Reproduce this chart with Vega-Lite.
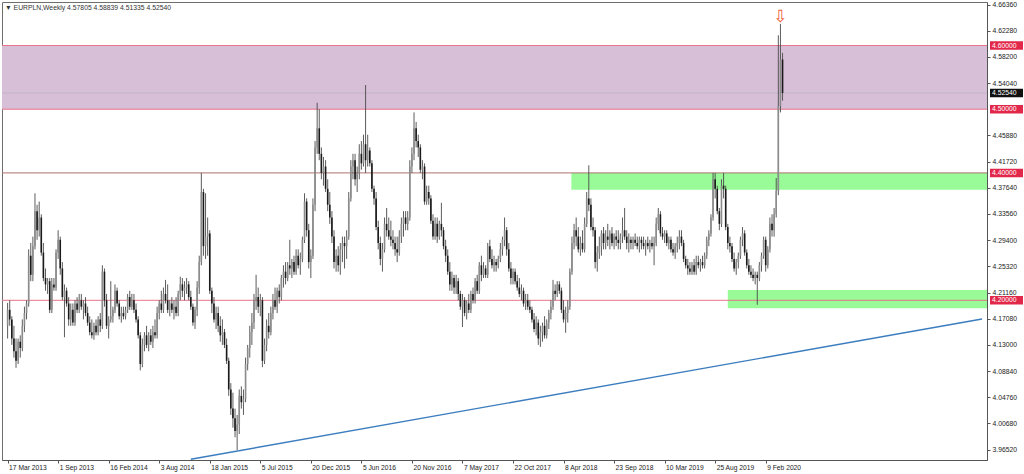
{
"$schema": "https://vega.github.io/schema/vega-lite/v6.json",
"width": 985, "height": 458,
"autosize": {"type": "none"},
"padding": {"left": 2, "top": 2, "right": 37, "bottom": 14},
"background": "white",
"config": {"view": {"stroke": "#6e6e6e", "strokeWidth": 1}, "font": "Liberation Sans", "axis": {"labelOverlap": false, "labelFlush": false, "labelBound": false}},
"title": {"text": "▼ EURPLN,Weekly  4.57805 4.58839 4.51335 4.52540", "anchor": "start", "frame": "group", "offset": -13, "baseline": "middle", "fontSize": 6.8, "fontWeight": "normal", "color": "#333333", "font": "Liberation Sans", "dx": 3},
"datasets": {
"candles": [
{"d":"2013-03-17","o":4.16,"h":4.196,"l":4.14,"c":4.185},
{"d":"2013-03-24","o":4.185,"h":4.2,"l":4.16,"c":4.17},
{"d":"2013-03-31","o":4.17,"h":4.175,"l":4.13,"c":4.14},
{"d":"2013-04-07","o":4.14,"h":4.16,"l":4.11,"c":4.12},
{"d":"2013-04-14","o":4.12,"h":4.14,"l":4.094,"c":4.105},
{"d":"2013-04-21","o":4.105,"h":4.14,"l":4.1,"c":4.135},
{"d":"2013-04-28","o":4.135,"h":4.145,"l":4.11,"c":4.125},
{"d":"2013-05-05","o":4.125,"h":4.17,"l":4.12,"c":4.16},
{"d":"2013-05-12","o":4.16,"h":4.19,"l":4.15,"c":4.18},
{"d":"2013-05-19","o":4.18,"h":4.2,"l":4.17,"c":4.195},
{"d":"2013-05-26","o":4.195,"h":4.28,"l":4.19,"c":4.27},
{"d":"2013-06-02","o":4.27,"h":4.29,"l":4.23,"c":4.24},
{"d":"2013-06-09","o":4.24,"h":4.3,"l":4.23,"c":4.285},
{"d":"2013-06-16","o":4.285,"h":4.368,"l":4.28,"c":4.34},
{"d":"2013-06-23","o":4.34,"h":4.35,"l":4.295,"c":4.31},
{"d":"2013-06-30","o":4.31,"h":4.355,"l":4.3,"c":4.33},
{"d":"2013-07-07","o":4.33,"h":4.335,"l":4.27,"c":4.275},
{"d":"2013-07-14","o":4.275,"h":4.29,"l":4.23,"c":4.235},
{"d":"2013-07-21","o":4.235,"h":4.25,"l":4.215,"c":4.225},
{"d":"2013-07-28","o":4.225,"h":4.235,"l":4.21,"c":4.23},
{"d":"2013-08-04","o":4.23,"h":4.235,"l":4.18,"c":4.185},
{"d":"2013-08-11","o":4.185,"h":4.235,"l":4.18,"c":4.225},
{"d":"2013-08-18","o":4.225,"h":4.235,"l":4.215,"c":4.22},
{"d":"2013-08-25","o":4.22,"h":4.28,"l":4.215,"c":4.275},
{"d":"2013-09-01","o":4.275,"h":4.31,"l":4.265,"c":4.295},
{"d":"2013-09-08","o":4.295,"h":4.3,"l":4.24,"c":4.25},
{"d":"2013-09-15","o":4.25,"h":4.26,"l":4.2,"c":4.205},
{"d":"2013-09-22","o":4.205,"h":4.225,"l":4.142,"c":4.215},
{"d":"2013-09-29","o":4.215,"h":4.22,"l":4.19,"c":4.195},
{"d":"2013-10-06","o":4.195,"h":4.205,"l":4.16,"c":4.17},
{"d":"2013-10-13","o":4.17,"h":4.195,"l":4.16,"c":4.185},
{"d":"2013-10-20","o":4.185,"h":4.195,"l":4.16,"c":4.165},
{"d":"2013-10-27","o":4.165,"h":4.2,"l":4.16,"c":4.195},
{"d":"2013-11-03","o":4.195,"h":4.205,"l":4.18,"c":4.185},
{"d":"2013-11-10","o":4.185,"h":4.21,"l":4.18,"c":4.2},
{"d":"2013-11-17","o":4.2,"h":4.21,"l":4.185,"c":4.19},
{"d":"2013-11-24","o":4.19,"h":4.2,"l":4.17,"c":4.195},
{"d":"2013-12-01","o":4.195,"h":4.205,"l":4.175,"c":4.18},
{"d":"2013-12-08","o":4.18,"h":4.19,"l":4.16,"c":4.165},
{"d":"2013-12-15","o":4.165,"h":4.175,"l":4.145,"c":4.15},
{"d":"2013-12-22","o":4.15,"h":4.17,"l":4.14,"c":4.145},
{"d":"2013-12-29","o":4.145,"h":4.165,"l":4.138,"c":4.16},
{"d":"2014-01-05","o":4.16,"h":4.17,"l":4.145,"c":4.15},
{"d":"2014-01-12","o":4.15,"h":4.175,"l":4.145,"c":4.17},
{"d":"2014-01-19","o":4.17,"h":4.18,"l":4.15,"c":4.16},
{"d":"2014-01-26","o":4.16,"h":4.255,"l":4.155,"c":4.245},
{"d":"2014-02-02","o":4.245,"h":4.25,"l":4.19,"c":4.2},
{"d":"2014-02-09","o":4.2,"h":4.21,"l":4.155,"c":4.16},
{"d":"2014-02-16","o":4.16,"h":4.175,"l":4.14,"c":4.17},
{"d":"2014-02-23","o":4.17,"h":4.23,"l":4.165,"c":4.175},
{"d":"2014-03-02","o":4.175,"h":4.19,"l":4.165,"c":4.185},
{"d":"2014-03-09","o":4.185,"h":4.225,"l":4.18,"c":4.215},
{"d":"2014-03-16","o":4.215,"h":4.22,"l":4.19,"c":4.195},
{"d":"2014-03-23","o":4.195,"h":4.2,"l":4.17,"c":4.175},
{"d":"2014-03-30","o":4.175,"h":4.19,"l":4.165,"c":4.18},
{"d":"2014-04-06","o":4.18,"h":4.19,"l":4.17,"c":4.175},
{"d":"2014-04-13","o":4.175,"h":4.19,"l":4.17,"c":4.185},
{"d":"2014-04-20","o":4.185,"h":4.21,"l":4.18,"c":4.205},
{"d":"2014-04-27","o":4.205,"h":4.215,"l":4.185,"c":4.19},
{"d":"2014-05-04","o":4.19,"h":4.21,"l":4.185,"c":4.2},
{"d":"2014-05-11","o":4.2,"h":4.21,"l":4.18,"c":4.185},
{"d":"2014-05-18","o":4.185,"h":4.195,"l":4.165,"c":4.17},
{"d":"2014-05-25","o":4.17,"h":4.175,"l":4.14,"c":4.145},
{"d":"2014-06-01","o":4.145,"h":4.15,"l":4.09,"c":4.1},
{"d":"2014-06-08","o":4.1,"h":4.14,"l":4.095,"c":4.13},
{"d":"2014-06-15","o":4.13,"h":4.15,"l":4.12,"c":4.145},
{"d":"2014-06-22","o":4.145,"h":4.16,"l":4.125,"c":4.13},
{"d":"2014-06-29","o":4.13,"h":4.15,"l":4.12,"c":4.145},
{"d":"2014-07-06","o":4.145,"h":4.155,"l":4.13,"c":4.135},
{"d":"2014-07-13","o":4.135,"h":4.16,"l":4.125,"c":4.15},
{"d":"2014-07-20","o":4.15,"h":4.17,"l":4.14,"c":4.145},
{"d":"2014-07-27","o":4.145,"h":4.19,"l":4.14,"c":4.18},
{"d":"2014-08-03","o":4.18,"h":4.2,"l":4.17,"c":4.195},
{"d":"2014-08-10","o":4.195,"h":4.215,"l":4.18,"c":4.185},
{"d":"2014-08-17","o":4.185,"h":4.22,"l":4.18,"c":4.21},
{"d":"2014-08-24","o":4.21,"h":4.232,"l":4.195,"c":4.2},
{"d":"2014-08-31","o":4.2,"h":4.225,"l":4.18,"c":4.185},
{"d":"2014-09-07","o":4.185,"h":4.2,"l":4.175,"c":4.195},
{"d":"2014-09-14","o":4.195,"h":4.205,"l":4.18,"c":4.185},
{"d":"2014-09-21","o":4.185,"h":4.2,"l":4.17,"c":4.19},
{"d":"2014-09-28","o":4.19,"h":4.205,"l":4.175,"c":4.18},
{"d":"2014-10-05","o":4.18,"h":4.215,"l":4.175,"c":4.21},
{"d":"2014-10-12","o":4.21,"h":4.237,"l":4.2,"c":4.225},
{"d":"2014-10-19","o":4.225,"h":4.235,"l":4.205,"c":4.215},
{"d":"2014-10-26","o":4.215,"h":4.23,"l":4.2,"c":4.22},
{"d":"2014-11-02","o":4.22,"h":4.235,"l":4.21,"c":4.225},
{"d":"2014-11-09","o":4.225,"h":4.23,"l":4.2,"c":4.205},
{"d":"2014-11-16","o":4.205,"h":4.215,"l":4.185,"c":4.19},
{"d":"2014-11-23","o":4.19,"h":4.195,"l":4.16,"c":4.165},
{"d":"2014-11-30","o":4.165,"h":4.19,"l":4.155,"c":4.185},
{"d":"2014-12-07","o":4.185,"h":4.23,"l":4.175,"c":4.22},
{"d":"2014-12-14","o":4.22,"h":4.27,"l":4.21,"c":4.26},
{"d":"2014-12-21","o":4.26,"h":4.4,"l":4.255,"c":4.37},
{"d":"2014-12-28","o":4.37,"h":4.375,"l":4.27,"c":4.285},
{"d":"2015-01-04","o":4.285,"h":4.368,"l":4.265,"c":4.3},
{"d":"2015-01-11","o":4.3,"h":4.33,"l":4.27,"c":4.305},
{"d":"2015-01-18","o":4.305,"h":4.31,"l":4.21,"c":4.215},
{"d":"2015-01-25","o":4.215,"h":4.22,"l":4.18,"c":4.195},
{"d":"2015-02-01","o":4.195,"h":4.205,"l":4.165,"c":4.17},
{"d":"2015-02-08","o":4.17,"h":4.19,"l":4.155,"c":4.18},
{"d":"2015-02-15","o":4.18,"h":4.19,"l":4.15,"c":4.16},
{"d":"2015-02-22","o":4.16,"h":4.175,"l":4.135,"c":4.145},
{"d":"2015-03-01","o":4.145,"h":4.17,"l":4.13,"c":4.15},
{"d":"2015-03-08","o":4.15,"h":4.155,"l":4.125,"c":4.13},
{"d":"2015-03-15","o":4.13,"h":4.14,"l":4.1,"c":4.105},
{"d":"2015-03-22","o":4.105,"h":4.11,"l":4.05,"c":4.06},
{"d":"2015-03-29","o":4.06,"h":4.07,"l":4.02,"c":4.03},
{"d":"2015-04-05","o":4.03,"h":4.055,"l":4.0,"c":4.015},
{"d":"2015-04-12","o":4.015,"h":4.03,"l":3.985,"c":3.995},
{"d":"2015-04-19","o":3.995,"h":4.02,"l":3.965,"c":4.005},
{"d":"2015-04-26","o":4.005,"h":4.06,"l":3.99,"c":4.05},
{"d":"2015-05-03","o":4.05,"h":4.065,"l":4.03,"c":4.04},
{"d":"2015-05-10","o":4.04,"h":4.06,"l":4.02,"c":4.045},
{"d":"2015-05-17","o":4.045,"h":4.11,"l":4.04,"c":4.1},
{"d":"2015-05-24","o":4.1,"h":4.13,"l":4.09,"c":4.125},
{"d":"2015-05-31","o":4.125,"h":4.16,"l":4.11,"c":4.15},
{"d":"2015-06-07","o":4.15,"h":4.18,"l":4.13,"c":4.165},
{"d":"2015-06-14","o":4.165,"h":4.21,"l":4.155,"c":4.2},
{"d":"2015-06-21","o":4.2,"h":4.24,"l":4.185,"c":4.205},
{"d":"2015-06-28","o":4.205,"h":4.22,"l":4.18,"c":4.19},
{"d":"2015-07-05","o":4.19,"h":4.21,"l":4.175,"c":4.2},
{"d":"2015-07-12","o":4.2,"h":4.205,"l":4.095,"c":4.105},
{"d":"2015-07-19","o":4.105,"h":4.14,"l":4.1,"c":4.13},
{"d":"2015-07-26","o":4.13,"h":4.17,"l":4.12,"c":4.16},
{"d":"2015-08-02","o":4.16,"h":4.18,"l":4.14,"c":4.15},
{"d":"2015-08-09","o":4.15,"h":4.19,"l":4.145,"c":4.18},
{"d":"2015-08-16","o":4.18,"h":4.21,"l":4.17,"c":4.2},
{"d":"2015-08-23","o":4.2,"h":4.22,"l":4.185,"c":4.19},
{"d":"2015-08-30","o":4.19,"h":4.22,"l":4.18,"c":4.215},
{"d":"2015-09-06","o":4.215,"h":4.225,"l":4.195,"c":4.205},
{"d":"2015-09-13","o":4.205,"h":4.24,"l":4.2,"c":4.235},
{"d":"2015-09-20","o":4.235,"h":4.255,"l":4.22,"c":4.245},
{"d":"2015-09-27","o":4.245,"h":4.26,"l":4.225,"c":4.235},
{"d":"2015-10-04","o":4.235,"h":4.26,"l":4.23,"c":4.255},
{"d":"2015-10-11","o":4.255,"h":4.295,"l":4.24,"c":4.25},
{"d":"2015-10-18","o":4.25,"h":4.265,"l":4.235,"c":4.26},
{"d":"2015-10-25","o":4.26,"h":4.27,"l":4.24,"c":4.245},
{"d":"2015-11-01","o":4.245,"h":4.28,"l":4.24,"c":4.27},
{"d":"2015-11-08","o":4.27,"h":4.28,"l":4.25,"c":4.255},
{"d":"2015-11-15","o":4.255,"h":4.275,"l":4.24,"c":4.265},
{"d":"2015-11-22","o":4.265,"h":4.3,"l":4.26,"c":4.295},
{"d":"2015-11-29","o":4.295,"h":4.368,"l":4.29,"c":4.355},
{"d":"2015-12-06","o":4.355,"h":4.36,"l":4.3,"c":4.31},
{"d":"2015-12-13","o":4.31,"h":4.32,"l":4.25,"c":4.26},
{"d":"2015-12-20","o":4.26,"h":4.28,"l":4.235,"c":4.27},
{"d":"2015-12-27","o":4.27,"h":4.36,"l":4.265,"c":4.35},
{"d":"2016-01-03","o":4.35,"h":4.45,"l":4.34,"c":4.44},
{"d":"2016-01-10","o":4.44,"h":4.51,"l":4.43,"c":4.47},
{"d":"2016-01-17","o":4.47,"h":4.5,"l":4.42,"c":4.43},
{"d":"2016-01-24","o":4.43,"h":4.44,"l":4.39,"c":4.4},
{"d":"2016-01-31","o":4.4,"h":4.425,"l":4.38,"c":4.41},
{"d":"2016-02-07","o":4.41,"h":4.42,"l":4.37,"c":4.375},
{"d":"2016-02-14","o":4.375,"h":4.39,"l":4.34,"c":4.35},
{"d":"2016-02-21","o":4.35,"h":4.37,"l":4.32,"c":4.33},
{"d":"2016-02-28","o":4.33,"h":4.34,"l":4.29,"c":4.3},
{"d":"2016-03-06","o":4.3,"h":4.31,"l":4.25,"c":4.26},
{"d":"2016-03-13","o":4.26,"h":4.28,"l":4.245,"c":4.27},
{"d":"2016-03-20","o":4.27,"h":4.285,"l":4.245,"c":4.255},
{"d":"2016-03-27","o":4.255,"h":4.29,"l":4.24,"c":4.28},
{"d":"2016-04-03","o":4.28,"h":4.3,"l":4.26,"c":4.29},
{"d":"2016-04-10","o":4.29,"h":4.3,"l":4.25,"c":4.285},
{"d":"2016-04-17","o":4.285,"h":4.31,"l":4.265,"c":4.3},
{"d":"2016-04-24","o":4.3,"h":4.37,"l":4.295,"c":4.36},
{"d":"2016-05-01","o":4.36,"h":4.42,"l":4.355,"c":4.41},
{"d":"2016-05-08","o":4.41,"h":4.43,"l":4.39,"c":4.42},
{"d":"2016-05-15","o":4.42,"h":4.43,"l":4.38,"c":4.39},
{"d":"2016-05-22","o":4.39,"h":4.41,"l":4.37,"c":4.4},
{"d":"2016-05-29","o":4.4,"h":4.445,"l":4.39,"c":4.43},
{"d":"2016-06-05","o":4.43,"h":4.45,"l":4.405,"c":4.415},
{"d":"2016-06-12","o":4.415,"h":4.46,"l":4.41,"c":4.445},
{"d":"2016-06-19","o":4.445,"h":4.538,"l":4.4,"c":4.42},
{"d":"2016-06-26","o":4.42,"h":4.46,"l":4.41,"c":4.435},
{"d":"2016-07-03","o":4.435,"h":4.44,"l":4.41,"c":4.415},
{"d":"2016-07-10","o":4.415,"h":4.42,"l":4.37,"c":4.375},
{"d":"2016-07-17","o":4.375,"h":4.38,"l":4.35,"c":4.36},
{"d":"2016-07-24","o":4.36,"h":4.37,"l":4.31,"c":4.315},
{"d":"2016-07-31","o":4.315,"h":4.325,"l":4.28,"c":4.29},
{"d":"2016-08-07","o":4.29,"h":4.3,"l":4.255,"c":4.265},
{"d":"2016-08-14","o":4.265,"h":4.29,"l":4.245,"c":4.28},
{"d":"2016-08-21","o":4.28,"h":4.33,"l":4.275,"c":4.32},
{"d":"2016-08-28","o":4.32,"h":4.345,"l":4.3,"c":4.31},
{"d":"2016-09-04","o":4.31,"h":4.33,"l":4.295,"c":4.3},
{"d":"2016-09-11","o":4.3,"h":4.325,"l":4.285,"c":4.295},
{"d":"2016-09-18","o":4.295,"h":4.31,"l":4.28,"c":4.29},
{"d":"2016-09-25","o":4.29,"h":4.3,"l":4.27,"c":4.28},
{"d":"2016-10-02","o":4.28,"h":4.3,"l":4.26,"c":4.275},
{"d":"2016-10-09","o":4.275,"h":4.31,"l":4.27,"c":4.3},
{"d":"2016-10-16","o":4.3,"h":4.33,"l":4.29,"c":4.32},
{"d":"2016-10-23","o":4.32,"h":4.34,"l":4.3,"c":4.33},
{"d":"2016-10-30","o":4.33,"h":4.34,"l":4.31,"c":4.32},
{"d":"2016-11-06","o":4.32,"h":4.34,"l":4.31,"c":4.33},
{"d":"2016-11-13","o":4.33,"h":4.42,"l":4.325,"c":4.41},
{"d":"2016-11-20","o":4.41,"h":4.44,"l":4.4,"c":4.43},
{"d":"2016-11-27","o":4.43,"h":4.495,"l":4.42,"c":4.47},
{"d":"2016-12-04","o":4.47,"h":4.48,"l":4.44,"c":4.45},
{"d":"2016-12-11","o":4.45,"h":4.46,"l":4.425,"c":4.44},
{"d":"2016-12-18","o":4.44,"h":4.445,"l":4.4,"c":4.405},
{"d":"2016-12-25","o":4.405,"h":4.42,"l":4.39,"c":4.41},
{"d":"2017-01-01","o":4.41,"h":4.415,"l":4.35,"c":4.355},
{"d":"2017-01-08","o":4.355,"h":4.38,"l":4.35,"c":4.37},
{"d":"2017-01-15","o":4.37,"h":4.38,"l":4.35,"c":4.36},
{"d":"2017-01-22","o":4.36,"h":4.365,"l":4.32,"c":4.325},
{"d":"2017-01-29","o":4.325,"h":4.335,"l":4.295,"c":4.3},
{"d":"2017-02-05","o":4.3,"h":4.33,"l":4.295,"c":4.32},
{"d":"2017-02-12","o":4.32,"h":4.33,"l":4.29,"c":4.3},
{"d":"2017-02-19","o":4.3,"h":4.325,"l":4.295,"c":4.32},
{"d":"2017-02-26","o":4.32,"h":4.353,"l":4.3,"c":4.31},
{"d":"2017-03-05","o":4.31,"h":4.315,"l":4.28,"c":4.285},
{"d":"2017-03-12","o":4.285,"h":4.295,"l":4.26,"c":4.27},
{"d":"2017-03-19","o":4.27,"h":4.28,"l":4.24,"c":4.245},
{"d":"2017-03-26","o":4.245,"h":4.26,"l":4.215,"c":4.225},
{"d":"2017-04-02","o":4.225,"h":4.245,"l":4.215,"c":4.235},
{"d":"2017-04-09","o":4.235,"h":4.24,"l":4.21,"c":4.22},
{"d":"2017-04-16","o":4.22,"h":4.24,"l":4.21,"c":4.23},
{"d":"2017-04-23","o":4.23,"h":4.235,"l":4.2,"c":4.21},
{"d":"2017-04-30","o":4.21,"h":4.215,"l":4.185,"c":4.19},
{"d":"2017-05-07","o":4.19,"h":4.21,"l":4.158,"c":4.2},
{"d":"2017-05-14","o":4.2,"h":4.205,"l":4.175,"c":4.18},
{"d":"2017-05-21","o":4.18,"h":4.2,"l":4.17,"c":4.195},
{"d":"2017-05-28","o":4.195,"h":4.21,"l":4.18,"c":4.185},
{"d":"2017-06-04","o":4.185,"h":4.215,"l":4.18,"c":4.21},
{"d":"2017-06-11","o":4.21,"h":4.22,"l":4.195,"c":4.2},
{"d":"2017-06-18","o":4.2,"h":4.235,"l":4.195,"c":4.23},
{"d":"2017-06-25","o":4.23,"h":4.24,"l":4.21,"c":4.215},
{"d":"2017-07-02","o":4.215,"h":4.26,"l":4.21,"c":4.255},
{"d":"2017-07-09","o":4.255,"h":4.27,"l":4.23,"c":4.24},
{"d":"2017-07-16","o":4.24,"h":4.26,"l":4.235,"c":4.25},
{"d":"2017-07-23","o":4.25,"h":4.255,"l":4.235,"c":4.24},
{"d":"2017-07-30","o":4.24,"h":4.29,"l":4.235,"c":4.285},
{"d":"2017-08-06","o":4.285,"h":4.295,"l":4.26,"c":4.265},
{"d":"2017-08-13","o":4.265,"h":4.28,"l":4.25,"c":4.255},
{"d":"2017-08-20","o":4.255,"h":4.27,"l":4.245,"c":4.26},
{"d":"2017-08-27","o":4.26,"h":4.265,"l":4.245,"c":4.255},
{"d":"2017-09-03","o":4.255,"h":4.27,"l":4.25,"c":4.265},
{"d":"2017-09-10","o":4.265,"h":4.29,"l":4.26,"c":4.28},
{"d":"2017-09-17","o":4.28,"h":4.3,"l":4.27,"c":4.295},
{"d":"2017-09-24","o":4.295,"h":4.33,"l":4.285,"c":4.31},
{"d":"2017-10-01","o":4.31,"h":4.315,"l":4.27,"c":4.28},
{"d":"2017-10-08","o":4.28,"h":4.29,"l":4.245,"c":4.25},
{"d":"2017-10-15","o":4.25,"h":4.26,"l":4.225,"c":4.235},
{"d":"2017-10-22","o":4.235,"h":4.25,"l":4.225,"c":4.245},
{"d":"2017-10-29","o":4.245,"h":4.25,"l":4.225,"c":4.23},
{"d":"2017-11-05","o":4.23,"h":4.24,"l":4.215,"c":4.22},
{"d":"2017-11-12","o":4.22,"h":4.235,"l":4.205,"c":4.21},
{"d":"2017-11-19","o":4.21,"h":4.225,"l":4.2,"c":4.215},
{"d":"2017-11-26","o":4.215,"h":4.22,"l":4.19,"c":4.195},
{"d":"2017-12-03","o":4.195,"h":4.21,"l":4.185,"c":4.2},
{"d":"2017-12-10","o":4.2,"h":4.21,"l":4.185,"c":4.19},
{"d":"2017-12-17","o":4.19,"h":4.2,"l":4.18,"c":4.185},
{"d":"2017-12-24","o":4.185,"h":4.19,"l":4.165,"c":4.17},
{"d":"2017-12-31","o":4.17,"h":4.18,"l":4.15,"c":4.155},
{"d":"2018-01-07","o":4.155,"h":4.175,"l":4.145,"c":4.165},
{"d":"2018-01-14","o":4.165,"h":4.17,"l":4.13,"c":4.14},
{"d":"2018-01-21","o":4.14,"h":4.16,"l":4.127,"c":4.15},
{"d":"2018-01-28","o":4.15,"h":4.165,"l":4.135,"c":4.16},
{"d":"2018-02-04","o":4.16,"h":4.175,"l":4.14,"c":4.145},
{"d":"2018-02-11","o":4.145,"h":4.17,"l":4.14,"c":4.165},
{"d":"2018-02-18","o":4.165,"h":4.185,"l":4.155,"c":4.18},
{"d":"2018-02-25","o":4.18,"h":4.2,"l":4.17,"c":4.19},
{"d":"2018-03-04","o":4.19,"h":4.232,"l":4.185,"c":4.215},
{"d":"2018-03-11","o":4.215,"h":4.225,"l":4.2,"c":4.21},
{"d":"2018-03-18","o":4.21,"h":4.23,"l":4.205,"c":4.225},
{"d":"2018-03-25","o":4.225,"h":4.23,"l":4.21,"c":4.215},
{"d":"2018-04-01","o":4.215,"h":4.22,"l":4.18,"c":4.185},
{"d":"2018-04-08","o":4.185,"h":4.2,"l":4.165,"c":4.17},
{"d":"2018-04-15","o":4.17,"h":4.19,"l":4.149,"c":4.18},
{"d":"2018-04-22","o":4.18,"h":4.2,"l":4.165,"c":4.19},
{"d":"2018-04-29","o":4.19,"h":4.25,"l":4.185,"c":4.245},
{"d":"2018-05-06","o":4.245,"h":4.3,"l":4.24,"c":4.29},
{"d":"2018-05-13","o":4.29,"h":4.32,"l":4.28,"c":4.31},
{"d":"2018-05-20","o":4.31,"h":4.33,"l":4.285,"c":4.3},
{"d":"2018-05-27","o":4.3,"h":4.315,"l":4.275,"c":4.28},
{"d":"2018-06-03","o":4.28,"h":4.3,"l":4.27,"c":4.29},
{"d":"2018-06-10","o":4.29,"h":4.31,"l":4.275,"c":4.28},
{"d":"2018-06-17","o":4.28,"h":4.33,"l":4.275,"c":4.32},
{"d":"2018-06-24","o":4.32,"h":4.37,"l":4.315,"c":4.36},
{"d":"2018-07-01","o":4.36,"h":4.412,"l":4.34,"c":4.35},
{"d":"2018-07-08","o":4.35,"h":4.36,"l":4.31,"c":4.315},
{"d":"2018-07-15","o":4.315,"h":4.33,"l":4.3,"c":4.31},
{"d":"2018-07-22","o":4.31,"h":4.315,"l":4.25,"c":4.26},
{"d":"2018-07-29","o":4.26,"h":4.285,"l":4.245,"c":4.275},
{"d":"2018-08-05","o":4.275,"h":4.3,"l":4.265,"c":4.285},
{"d":"2018-08-12","o":4.285,"h":4.31,"l":4.27,"c":4.305},
{"d":"2018-08-19","o":4.305,"h":4.315,"l":4.28,"c":4.29},
{"d":"2018-08-26","o":4.29,"h":4.31,"l":4.28,"c":4.3},
{"d":"2018-09-02","o":4.3,"h":4.32,"l":4.285,"c":4.295},
{"d":"2018-09-09","o":4.295,"h":4.31,"l":4.28,"c":4.305},
{"d":"2018-09-16","o":4.305,"h":4.315,"l":4.285,"c":4.29},
{"d":"2018-09-23","o":4.29,"h":4.305,"l":4.28,"c":4.3},
{"d":"2018-09-30","o":4.3,"h":4.31,"l":4.285,"c":4.295},
{"d":"2018-10-07","o":4.295,"h":4.31,"l":4.28,"c":4.29},
{"d":"2018-10-14","o":4.29,"h":4.305,"l":4.28,"c":4.3},
{"d":"2018-10-21","o":4.3,"h":4.33,"l":4.29,"c":4.31},
{"d":"2018-10-28","o":4.31,"h":4.345,"l":4.295,"c":4.3},
{"d":"2018-11-04","o":4.3,"h":4.31,"l":4.28,"c":4.29},
{"d":"2018-11-11","o":4.29,"h":4.305,"l":4.275,"c":4.295},
{"d":"2018-11-18","o":4.295,"h":4.3,"l":4.28,"c":4.29},
{"d":"2018-11-25","o":4.29,"h":4.3,"l":4.28,"c":4.295},
{"d":"2018-12-02","o":4.295,"h":4.305,"l":4.285,"c":4.29},
{"d":"2018-12-09","o":4.29,"h":4.3,"l":4.28,"c":4.285},
{"d":"2018-12-16","o":4.285,"h":4.3,"l":4.275,"c":4.295},
{"d":"2018-12-23","o":4.295,"h":4.3,"l":4.28,"c":4.29},
{"d":"2018-12-30","o":4.29,"h":4.3,"l":4.28,"c":4.285},
{"d":"2019-01-06","o":4.285,"h":4.295,"l":4.27,"c":4.29},
{"d":"2019-01-13","o":4.29,"h":4.3,"l":4.28,"c":4.285},
{"d":"2019-01-20","o":4.285,"h":4.295,"l":4.275,"c":4.29},
{"d":"2019-01-27","o":4.29,"h":4.3,"l":4.28,"c":4.285},
{"d":"2019-02-03","o":4.285,"h":4.3,"l":4.255,"c":4.29},
{"d":"2019-02-10","o":4.29,"h":4.33,"l":4.285,"c":4.32},
{"d":"2019-02-17","o":4.32,"h":4.345,"l":4.31,"c":4.335},
{"d":"2019-02-24","o":4.335,"h":4.34,"l":4.3,"c":4.305},
{"d":"2019-03-03","o":4.305,"h":4.315,"l":4.295,"c":4.3},
{"d":"2019-03-10","o":4.3,"h":4.31,"l":4.29,"c":4.305},
{"d":"2019-03-17","o":4.305,"h":4.31,"l":4.285,"c":4.29},
{"d":"2019-03-24","o":4.29,"h":4.3,"l":4.28,"c":4.295},
{"d":"2019-03-31","o":4.295,"h":4.3,"l":4.275,"c":4.28},
{"d":"2019-04-07","o":4.28,"h":4.29,"l":4.27,"c":4.275},
{"d":"2019-04-14","o":4.275,"h":4.29,"l":4.265,"c":4.285},
{"d":"2019-04-21","o":4.285,"h":4.3,"l":4.275,"c":4.29},
{"d":"2019-04-28","o":4.29,"h":4.31,"l":4.28,"c":4.3},
{"d":"2019-05-05","o":4.3,"h":4.31,"l":4.285,"c":4.29},
{"d":"2019-05-12","o":4.29,"h":4.295,"l":4.26,"c":4.265},
{"d":"2019-05-19","o":4.265,"h":4.27,"l":4.25,"c":4.255},
{"d":"2019-05-26","o":4.255,"h":4.265,"l":4.24,"c":4.25},
{"d":"2019-06-02","o":4.25,"h":4.26,"l":4.24,"c":4.245},
{"d":"2019-06-09","o":4.245,"h":4.26,"l":4.24,"c":4.255},
{"d":"2019-06-16","o":4.255,"h":4.265,"l":4.24,"c":4.245},
{"d":"2019-06-23","o":4.245,"h":4.27,"l":4.24,"c":4.26},
{"d":"2019-06-30","o":4.26,"h":4.27,"l":4.25,"c":4.255},
{"d":"2019-07-07","o":4.255,"h":4.265,"l":4.245,"c":4.26},
{"d":"2019-07-14","o":4.26,"h":4.27,"l":4.25,"c":4.255},
{"d":"2019-07-21","o":4.255,"h":4.275,"l":4.25,"c":4.27},
{"d":"2019-07-28","o":4.27,"h":4.3,"l":4.265,"c":4.295},
{"d":"2019-08-04","o":4.295,"h":4.31,"l":4.285,"c":4.305},
{"d":"2019-08-11","o":4.305,"h":4.335,"l":4.3,"c":4.33},
{"d":"2019-08-18","o":4.33,"h":4.4,"l":4.325,"c":4.39},
{"d":"2019-08-25","o":4.39,"h":4.4,"l":4.36,"c":4.375},
{"d":"2019-09-01","o":4.375,"h":4.38,"l":4.335,"c":4.34},
{"d":"2019-09-08","o":4.34,"h":4.345,"l":4.31,"c":4.32},
{"d":"2019-09-15","o":4.32,"h":4.39,"l":4.315,"c":4.38},
{"d":"2019-09-22","o":4.38,"h":4.4,"l":4.36,"c":4.375},
{"d":"2019-09-29","o":4.375,"h":4.38,"l":4.31,"c":4.315},
{"d":"2019-10-06","o":4.315,"h":4.32,"l":4.28,"c":4.29},
{"d":"2019-10-13","o":4.29,"h":4.3,"l":4.275,"c":4.285},
{"d":"2019-10-20","o":4.285,"h":4.29,"l":4.26,"c":4.265},
{"d":"2019-10-27","o":4.265,"h":4.275,"l":4.245,"c":4.25},
{"d":"2019-11-03","o":4.25,"h":4.265,"l":4.24,"c":4.26},
{"d":"2019-11-10","o":4.26,"h":4.275,"l":4.25,"c":4.27},
{"d":"2019-11-17","o":4.27,"h":4.3,"l":4.265,"c":4.295},
{"d":"2019-11-24","o":4.295,"h":4.315,"l":4.285,"c":4.305},
{"d":"2019-12-01","o":4.305,"h":4.31,"l":4.27,"c":4.275},
{"d":"2019-12-08","o":4.275,"h":4.28,"l":4.25,"c":4.255},
{"d":"2019-12-15","o":4.255,"h":4.265,"l":4.24,"c":4.245},
{"d":"2019-12-22","o":4.245,"h":4.255,"l":4.235,"c":4.24},
{"d":"2019-12-29","o":4.24,"h":4.25,"l":4.23,"c":4.235},
{"d":"2020-01-05","o":4.235,"h":4.245,"l":4.225,"c":4.24},
{"d":"2020-01-12","o":4.24,"h":4.245,"l":4.193,"c":4.235},
{"d":"2020-01-19","o":4.235,"h":4.26,"l":4.23,"c":4.255},
{"d":"2020-01-26","o":4.255,"h":4.275,"l":4.245,"c":4.27},
{"d":"2020-02-02","o":4.27,"h":4.3,"l":4.265,"c":4.295},
{"d":"2020-02-09","o":4.295,"h":4.3,"l":4.245,"c":4.255},
{"d":"2020-02-16","o":4.255,"h":4.285,"l":4.25,"c":4.28},
{"d":"2020-02-23","o":4.28,"h":4.33,"l":4.275,"c":4.32},
{"d":"2020-03-01","o":4.32,"h":4.335,"l":4.3,"c":4.31},
{"d":"2020-03-08","o":4.31,"h":4.345,"l":4.3,"c":4.335},
{"d":"2020-03-15","o":4.335,"h":4.392,"l":4.33,"c":4.372},
{"d":"2020-03-22","o":4.372,"h":4.616,"l":4.365,"c":4.505},
{"d":"2020-03-29","o":4.505,"h":4.634,"l":4.495,"c":4.578},
{"d":"2020-04-05","o":4.57805,"h":4.58839,"l":4.51335,"c":4.5254}
]
},
"layer": [
{
"data": {"values": [
{"zone": "resistance", "from": "2012-06-01", "to": "2022-12-31", "lo": 4.5, "hi": 4.6},
{"zone": "supply", "from": "2018-05-04", "to": "2022-12-31", "lo": 4.3735, "hi": 4.4},
{"zone": "demand", "from": "2019-10-06", "to": "2022-12-31", "lo": 4.1875, "hi": 4.2162}
]},
"mark": {"type": "rect", "clip": true},
"encoding": {
"x": {"field": "from", "type": "temporal", "title": null, "scale": {"type": "utc", "domain": [{"year": 2013, "month": 3, "date": 15, "utc": true}, {"year": 2022, "month": 1, "date": 28, "utc": true}], "nice": false},
 "axis": {"values": [{"year":2013,"month":3,"date":17,"utc":true},{"year":2013,"month":9,"date":1,"utc":true},{"year":2014,"month":2,"date":16,"utc":true},{"year":2014,"month":8,"date":3,"utc":true},{"year":2015,"month":1,"date":18,"utc":true},{"year":2015,"month":7,"date":5,"utc":true},{"year":2015,"month":12,"date":20,"utc":true},{"year":2016,"month":6,"date":5,"utc":true},{"year":2016,"month":11,"date":20,"utc":true},{"year":2017,"month":5,"date":7,"utc":true},{"year":2017,"month":10,"date":22,"utc":true},{"year":2018,"month":4,"date":8,"utc":true},{"year":2018,"month":9,"date":23,"utc":true},{"year":2019,"month":3,"date":10,"utc":true},{"year":2019,"month":8,"date":25,"utc":true},{"year":2020,"month":2,"date":9,"utc":true}],
  "tickCount": 40, "labelExpr": "utcFormat(datum.value, '%-d %b %Y')", "labelAlign": "left", "labelBaseline": "top", "labelOffset": 1, "labelPadding": 1, "tickSize": 3, "tickColor": "#555555", "domainColor": "#555555", "labelColor": "#222222", "labelFontSize": 6.7, "labelFont": "Liberation Sans", "grid": false, "labelOverlap": false, "labelFlush": false}},
"x2": {"field": "to"},
"y": {"field": "lo", "type": "quantitative", "title": null, "scale": {"domain": [3.9493, 4.6683], "nice": false, "zero": false},
 "axis": {"orient": "right", "values": [4.6636, 4.6228, 4.582, 4.5404, 4.4588, 4.4172, 4.3764, 4.3356, 4.294, 4.2532, 4.2116, 4.1708, 4.13, 4.0884, 4.0476, 4.0068, 3.9652], "tickCount": 40, "format": ".5f", "tickSize": 3, "labelPadding": 2, "labelFontSize": 6.8, "labelFont": "Liberation Sans", "labelColor": "#222222", "domainColor": "#555555", "tickColor": "#555555", "grid": false, "labelOverlap": false, "labelFlush": false, "labelBaseline": "middle"}},
"y2": {"field": "hi"},
"fill": {"field": "zone", "type": "nominal", "scale": {"domain": ["resistance", "supply", "demand"], "range": ["#d8bfd8", "#98fb98", "#98fb98"]}, "legend": null}
}
},
{
"data": {"values": [{"p": 4.6, "kind": "zone"}, {"p": 4.5, "kind": "zone"}, {"p": 4.4, "kind": "level"}, {"p": 4.2, "kind": "zone"}, {"p": 4.5254, "kind": "bid"}]},
"mark": {"type": "rule", "strokeWidth": 1},
"encoding": {
"y": {"field": "p", "type": "quantitative", "title": null, "scale": {"domain": [3.9493, 4.6683], "nice": false, "zero": false}},
"stroke": {"field": "kind", "type": "nominal", "scale": {"domain": ["zone", "level", "bid"], "range": ["#e8758a", "#b07070", "#c4b4c8"]}, "legend": null}
}
},
{
"data": {"values": [{"d1": "2014-11-16", "p1": 3.9505, "d2": "2022-01-28", "p2": 4.1707}]},
"mark": {"type": "rule", "color": "#3b7dbf", "strokeWidth": 1.4, "clip": true},
"encoding": {
"x": {"field": "d1", "type": "temporal", "title": null, "scale": {"type": "utc", "domain": [{"year": 2013, "month": 3, "date": 15, "utc": true}, {"year": 2022, "month": 1, "date": 28, "utc": true}], "nice": false}},
"x2": {"field": "d2"},
"y": {"field": "p1", "type": "quantitative", "title": null, "scale": {"domain": [3.9493, 4.6683], "nice": false, "zero": false}},
"y2": {"field": "p2"}
}
},
{
"data": {"name": "candles"},
"mark": {"type": "rule", "strokeWidth": 0.9, "color": "#4a4a4a"},
"encoding": {
"x": {"field": "d", "type": "temporal", "title": null, "scale": {"type": "utc", "domain": [{"year": 2013, "month": 3, "date": 15, "utc": true}, {"year": 2022, "month": 1, "date": 28, "utc": true}], "nice": false}},
"y": {"field": "l", "type": "quantitative", "title": null, "scale": {"domain": [3.9493, 4.6683], "nice": false, "zero": false}},
"y2": {"field": "h"}
}
},
{
"data": {"name": "candles"},
"mark": {"type": "bar", "size": 1.6},
"encoding": {
"x": {"field": "d", "type": "temporal", "title": null, "scale": {"type": "utc", "domain": [{"year": 2013, "month": 3, "date": 15, "utc": true}, {"year": 2022, "month": 1, "date": 28, "utc": true}], "nice": false}},
"y": {"field": "o", "type": "quantitative", "title": null, "scale": {"domain": [3.9493, 4.6683], "nice": false, "zero": false}},
"y2": {"field": "c"},
"color": {"condition": {"test": "datum.c >= datum.o", "value": "#8c8c8c"}, "value": "#1a1a1a"}
}
},
{
"data": {"values": [{"d": "2020-03-29", "p": 4.645, "sign": "⇩"}]},
"mark": {"type": "text", "color": "#f0603a", "fontSize": 17, "baseline": "middle", "align": "center", "font": "DejaVu Sans"},
"encoding": {
"x": {"field": "d", "type": "temporal", "title": null, "scale": {"type": "utc", "domain": [{"year": 2013, "month": 3, "date": 15, "utc": true}, {"year": 2022, "month": 1, "date": 28, "utc": true}], "nice": false}},
"y": {"field": "p", "type": "quantitative", "title": null, "scale": {"domain": [3.9493, 4.6683], "nice": false, "zero": false}},
"text": {"field": "sign"}
}
},
{
"data": {"values": [
{"p": 4.6, "t": "4.60000", "k": "level"},
{"p": 4.5254, "t": "4.52540", "k": "bid"},
{"p": 4.5, "t": "4.50000", "k": "level"},
{"p": 4.4, "t": "4.40000", "k": "level"},
{"p": 4.2, "t": "4.20000", "k": "level"}
]},
"layer": [
{
"mark": {"type": "rule", "strokeWidth": 8.5, "xOffset": 3, "x2Offset": 36, "clip": false},
"encoding": {
"y": {"field": "p", "type": "quantitative", "title": null, "scale": {"domain": [3.9493, 4.6683], "nice": false, "zero": false}},
"x": {"value": "width"},
"x2": {"value": "width"},
"color": {"field": "k", "type": "nominal", "scale": {"domain": ["level", "bid"], "range": ["#e2284a", "#111111"]}, "legend": null}
}
},
{
"mark": {"type": "text", "align": "left", "baseline": "middle", "dx": 5, "fontSize": 6.8, "font": "Liberation Sans", "color": "#ffffff", "clip": false},
"encoding": {
"y": {"field": "p", "type": "quantitative", "title": null, "scale": {"domain": [3.9493, 4.6683], "nice": false, "zero": false}},
"x": {"value": "width"},
"text": {"field": "t"}
}
}
]
}
]
}
